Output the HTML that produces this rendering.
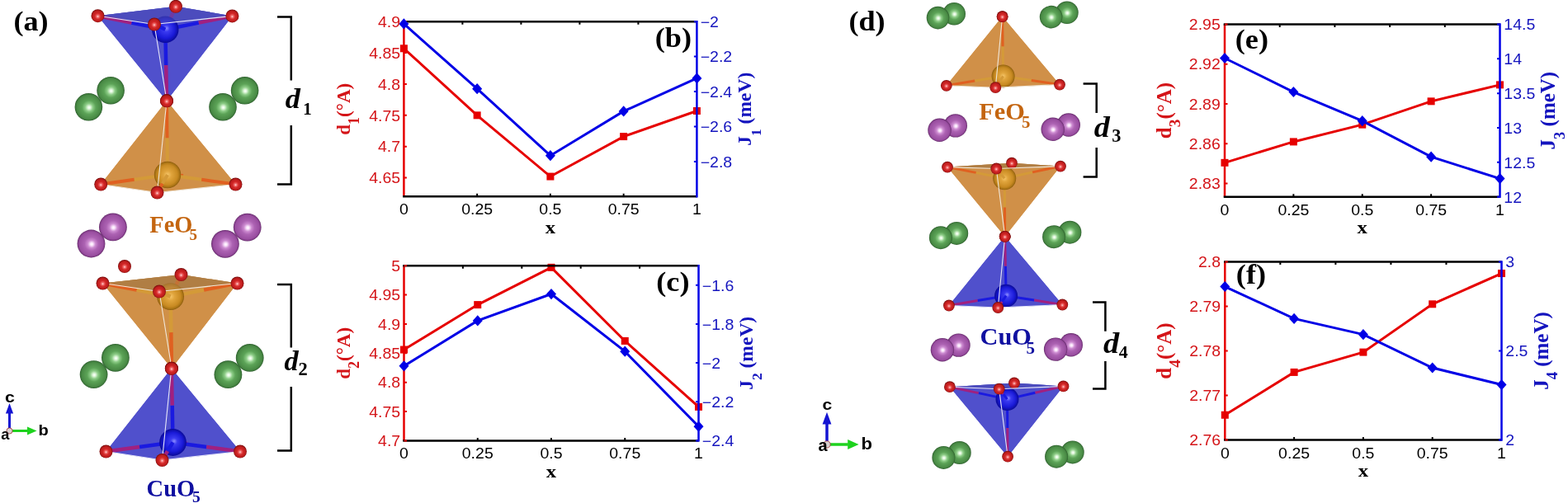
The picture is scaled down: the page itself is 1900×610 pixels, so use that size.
<!DOCTYPE html><html><head><meta charset="utf-8"><title>Figure</title><style>html,body{margin:0;padding:0;background:#fff;}svg{display:block;}</style></head><body>
<svg width="1900" height="610" viewBox="0 0 1900 610">
<defs>
<radialGradient id="gO" cx="0.5" cy="0.52" r="0.5" fx="0.5" fy="0.55">
 <stop offset="0" stop-color="#ffe0e0"/><stop offset="0.18" stop-color="#f07070"/><stop offset="0.45" stop-color="#d42828"/>
 <stop offset="0.82" stop-color="#bb1c1c"/><stop offset="1" stop-color="#7a0c0c"/></radialGradient>
<radialGradient id="gG" cx="0.5" cy="0.5" r="0.5" fx="0.52" fy="0.52">
 <stop offset="0" stop-color="#ffffff"/><stop offset="0.1" stop-color="#e2f8de"/><stop offset="0.28" stop-color="#8ccc86"/>
 <stop offset="0.5" stop-color="#5ca357"/><stop offset="0.86" stop-color="#498a45"/><stop offset="0.95" stop-color="#3a7438"/><stop offset="1" stop-color="#2a5a2a"/></radialGradient>
<radialGradient id="gP" cx="0.5" cy="0.5" r="0.5" fx="0.52" fy="0.52">
 <stop offset="0" stop-color="#ffffff"/><stop offset="0.1" stop-color="#fae4fb"/><stop offset="0.28" stop-color="#cc8ad0"/>
 <stop offset="0.5" stop-color="#ac62b2"/><stop offset="0.86" stop-color="#994ea0"/><stop offset="0.95" stop-color="#7e3a84"/><stop offset="1" stop-color="#5e2664"/></radialGradient>
<radialGradient id="gFe" cx="0.5" cy="0.5" r="0.5" fx="0.5" fy="0.5">
 <stop offset="0" stop-color="#f6c66a"/><stop offset="0.3" stop-color="#e0a43c"/><stop offset="0.75" stop-color="#c88a22"/>
 <stop offset="0.92" stop-color="#a87214"/><stop offset="1" stop-color="#8a5a0c"/></radialGradient>
<radialGradient id="gCu" cx="0.5" cy="0.5" r="0.5" fx="0.55" fy="0.45">
 <stop offset="0" stop-color="#8c8cff"/><stop offset="0.25" stop-color="#3a3af0"/><stop offset="0.7" stop-color="#1a1ad8"/>
 <stop offset="1" stop-color="#0a0a98"/></radialGradient>
</defs>
<rect width="1900" height="610" fill="#fff"/>
<text transform="translate(16.40 37.30) scale(1.050 1)" font-family="'Liberation Serif', 'Times New Roman', Times, serif" font-size="34.5" fill="#000" font-weight="bold">(a)</text>
<text transform="translate(1028.40 37.30) scale(1.050 1)" font-family="'Liberation Serif', 'Times New Roman', Times, serif" font-size="34.5" fill="#000" font-weight="bold">(d)</text>
<polygon points="118.5,19.2 213.0,7.8 281.4,19.4 202.0,122.3" fill="#5050cc" fill-opacity="1.00" stroke="none" stroke-width="0" stroke-linejoin="round"/>
<polygon points="118.5,19.2 213.0,7.8 281.4,19.4 187.0,29.5" fill="#4d4dbd" fill-opacity="1.00" stroke="none" stroke-width="0" stroke-linejoin="round"/>
<polygon points="118.5,19.2 187.0,29.5 202.0,122.3" fill="#5050cc" fill-opacity="1.00" stroke="none" stroke-width="0" stroke-linejoin="round"/>
<polygon points="187.0,29.5 281.4,19.4 202.0,122.3" fill="#5050cc" fill-opacity="1.00" stroke="none" stroke-width="0" stroke-linejoin="round"/>
<line x1="200.3" y1="35.8" x2="206.7" y2="21.8" stroke="#1a1ae0" stroke-width="4.5"/><line x1="206.7" y1="21.8" x2="213.0" y2="7.8" stroke="#a02080" stroke-width="4.5"/>
<line x1="200.3" y1="35.8" x2="159.4" y2="27.5" stroke="#1a1ae0" stroke-width="4.5"/><line x1="159.4" y1="27.5" x2="118.5" y2="19.2" stroke="#a02080" stroke-width="4.5"/>
<line x1="200.3" y1="35.8" x2="240.8" y2="27.6" stroke="#1a1ae0" stroke-width="4.5"/><line x1="240.8" y1="27.6" x2="281.4" y2="19.4" stroke="#a02080" stroke-width="4.5"/>
<line x1="200.3" y1="35.8" x2="201.2" y2="79.0" stroke="#1a1ae0" stroke-width="4.5"/><line x1="201.2" y1="79.0" x2="202.0" y2="122.3" stroke="#a02080" stroke-width="4.5"/>
<circle cx="200.3" cy="35.8" r="16.2" fill="url(#gCu)"/>
<line x1="200.3" y1="35.8" x2="193.7" y2="32.6" stroke="#1a1ae0" stroke-width="4.5"/><line x1="193.7" y1="32.6" x2="187.0" y2="29.5" stroke="#a02080" stroke-width="4.5"/>
<polygon points="118.5,19.2 213.0,7.8 281.4,19.4 187.0,29.5" fill="#4d4dbd" fill-opacity="0.60" stroke="none" stroke-width="0" stroke-linejoin="round"/>
<circle cx="213.0" cy="7.8" r="8.0" fill="url(#gO)"/>
<line x1="118.5" y1="19.2" x2="187.0" y2="29.5" stroke="#e6e6f8" stroke-width="1.1"/>
<line x1="187.0" y1="29.5" x2="281.4" y2="19.4" stroke="#e6e6f8" stroke-width="1.1"/>
<line x1="187.0" y1="29.5" x2="202.0" y2="122.3" stroke="#e6e6f8" stroke-width="1.1"/>
<circle cx="118.5" cy="19.2" r="8.0" fill="url(#gO)"/>
<circle cx="281.4" cy="19.4" r="8.0" fill="url(#gO)"/>
<circle cx="187.0" cy="29.5" r="8.0" fill="url(#gO)"/>
<circle cx="202.0" cy="122.3" r="8.0" fill="url(#gO)"/>
<circle cx="134.1" cy="109.7" r="16.8" fill="url(#gG)"/><circle cx="107.4" cy="129.8" r="16.8" fill="url(#gG)"/>
<circle cx="296.6" cy="109.8" r="16.8" fill="url(#gG)"/><circle cx="270.0" cy="129.8" r="16.8" fill="url(#gG)"/>
<polygon points="122.2,223.5 222.0,213.0 285.5,223.5 202.0,122.3" fill="#d09048" fill-opacity="1.00" stroke="none" stroke-width="0" stroke-linejoin="round"/>
<polygon points="122.2,223.5 222.0,213.0 285.5,223.5 190.5,233.5" fill="#b07e44" fill-opacity="1.00" stroke="none" stroke-width="0" stroke-linejoin="round"/>
<polygon points="122.2,223.5 190.5,233.5 202.0,122.3" fill="#d09048" fill-opacity="1.00" stroke="none" stroke-width="0" stroke-linejoin="round"/>
<polygon points="190.5,233.5 285.5,223.5 202.0,122.3" fill="#d09048" fill-opacity="1.00" stroke="none" stroke-width="0" stroke-linejoin="round"/>
<line x1="203.0" y1="212.0" x2="212.5" y2="212.5" stroke="#d49a38" stroke-width="4"/><line x1="212.5" y1="212.5" x2="222.0" y2="213.0" stroke="#e06020" stroke-width="4"/>
<line x1="203.0" y1="212.0" x2="162.6" y2="217.8" stroke="#d49a38" stroke-width="4"/><line x1="162.6" y1="217.8" x2="122.2" y2="223.5" stroke="#e06020" stroke-width="4"/>
<line x1="203.0" y1="212.0" x2="244.2" y2="217.8" stroke="#d49a38" stroke-width="4"/><line x1="244.2" y1="217.8" x2="285.5" y2="223.5" stroke="#e06020" stroke-width="4"/>
<line x1="203.0" y1="212.0" x2="202.5" y2="167.2" stroke="#d49a38" stroke-width="4"/><line x1="202.5" y1="167.2" x2="202.0" y2="122.3" stroke="#e06020" stroke-width="4"/>
<circle cx="203.0" cy="212.0" r="16.2" fill="url(#gFe)"/>
<line x1="203.0" y1="212.0" x2="196.8" y2="222.8" stroke="#d49a38" stroke-width="4"/><line x1="196.8" y1="222.8" x2="190.5" y2="233.5" stroke="#e06020" stroke-width="4"/>
<line x1="122.2" y1="223.5" x2="190.5" y2="233.5" stroke="#f0e6d8" stroke-width="1.1"/>
<line x1="190.5" y1="233.5" x2="285.5" y2="223.5" stroke="#f0e6d8" stroke-width="1.1"/>
<line x1="190.5" y1="233.5" x2="202.0" y2="122.3" stroke="#f0e6d8" stroke-width="1.1"/>
<circle cx="122.2" cy="223.5" r="8.0" fill="url(#gO)"/>
<circle cx="285.5" cy="223.5" r="8.0" fill="url(#gO)"/>
<circle cx="190.5" cy="233.5" r="8.0" fill="url(#gO)"/>
<circle cx="202.0" cy="122.3" r="8.0" fill="url(#gO)"/>
<circle cx="202.0" cy="122.3" r="8.0" fill="url(#gO)"/>
<circle cx="136.9" cy="275.4" r="16.9" fill="url(#gP)"/><circle cx="110.5" cy="295.5" r="16.9" fill="url(#gP)"/>
<circle cx="299.7" cy="275.6" r="16.9" fill="url(#gP)"/><circle cx="272.9" cy="295.8" r="16.9" fill="url(#gP)"/>
<circle cx="151.0" cy="323.0" r="8.0" fill="url(#gO)"/>
<polygon points="124.5,343.5 219.5,333.0 287.5,343.5 208.0,446.7" fill="#d09048" fill-opacity="1.00" stroke="none" stroke-width="0" stroke-linejoin="round"/>
<polygon points="124.5,343.5 219.5,333.0 287.5,343.5 193.0,353.5" fill="#b07e44" fill-opacity="1.00" stroke="none" stroke-width="0" stroke-linejoin="round"/>
<polygon points="124.5,343.5 193.0,353.5 208.0,446.7" fill="#d09048" fill-opacity="1.00" stroke="none" stroke-width="0" stroke-linejoin="round"/>
<polygon points="193.0,353.5 287.5,343.5 208.0,446.7" fill="#d09048" fill-opacity="1.00" stroke="none" stroke-width="0" stroke-linejoin="round"/>
<line x1="206.6" y1="359.6" x2="213.1" y2="346.3" stroke="#d49a38" stroke-width="4.5"/><line x1="213.1" y1="346.3" x2="219.5" y2="333.0" stroke="#e06020" stroke-width="4.5"/>
<line x1="206.6" y1="359.6" x2="165.6" y2="351.6" stroke="#d49a38" stroke-width="4.5"/><line x1="165.6" y1="351.6" x2="124.5" y2="343.5" stroke="#e06020" stroke-width="4.5"/>
<line x1="206.6" y1="359.6" x2="247.1" y2="351.6" stroke="#d49a38" stroke-width="4.5"/><line x1="247.1" y1="351.6" x2="287.5" y2="343.5" stroke="#e06020" stroke-width="4.5"/>
<line x1="206.6" y1="359.6" x2="207.3" y2="403.1" stroke="#d49a38" stroke-width="4.5"/><line x1="207.3" y1="403.1" x2="208.0" y2="446.7" stroke="#e06020" stroke-width="4.5"/>
<circle cx="206.6" cy="359.6" r="16.4" fill="url(#gFe)"/>
<line x1="206.6" y1="359.6" x2="199.8" y2="356.6" stroke="#d49a38" stroke-width="4.5"/><line x1="199.8" y1="356.6" x2="193.0" y2="353.5" stroke="#e06020" stroke-width="4.5"/>
<polygon points="124.5,343.5 219.5,333.0 287.5,343.5 193.0,353.5" fill="#b07e44" fill-opacity="0.60" stroke="none" stroke-width="0" stroke-linejoin="round"/>
<circle cx="219.5" cy="333.0" r="8.0" fill="url(#gO)"/>
<line x1="124.5" y1="343.5" x2="193.0" y2="353.5" stroke="#f0e6d8" stroke-width="1.1"/>
<line x1="193.0" y1="353.5" x2="287.5" y2="343.5" stroke="#f0e6d8" stroke-width="1.1"/>
<line x1="193.0" y1="353.5" x2="208.0" y2="446.7" stroke="#f0e6d8" stroke-width="1.1"/>
<circle cx="124.5" cy="343.5" r="8.0" fill="url(#gO)"/>
<circle cx="287.5" cy="343.5" r="8.0" fill="url(#gO)"/>
<circle cx="193.0" cy="353.5" r="8.0" fill="url(#gO)"/>
<circle cx="208.0" cy="446.7" r="8.0" fill="url(#gO)"/>
<circle cx="139.9" cy="433.8" r="16.9" fill="url(#gG)"/><circle cx="113.6" cy="454.1" r="16.9" fill="url(#gG)"/>
<circle cx="302.7" cy="433.9" r="16.9" fill="url(#gG)"/><circle cx="276.4" cy="454.2" r="16.9" fill="url(#gG)"/>
<polygon points="128.5,547.5 227.0,538.0 291.0,547.5 207.8,446.8" fill="#5050cc" fill-opacity="1.00" stroke="none" stroke-width="0" stroke-linejoin="round"/>
<polygon points="128.5,547.5 227.0,538.0 291.0,547.5 196.5,558.0" fill="#4d4dbd" fill-opacity="1.00" stroke="none" stroke-width="0" stroke-linejoin="round"/>
<polygon points="128.5,547.5 196.5,558.0 207.8,446.8" fill="#5050cc" fill-opacity="1.00" stroke="none" stroke-width="0" stroke-linejoin="round"/>
<polygon points="196.5,558.0 291.0,547.5 207.8,446.8" fill="#5050cc" fill-opacity="1.00" stroke="none" stroke-width="0" stroke-linejoin="round"/>
<line x1="209.5" y1="536.5" x2="218.2" y2="537.2" stroke="#1a1ae0" stroke-width="4.5"/><line x1="218.2" y1="537.2" x2="227.0" y2="538.0" stroke="#a02080" stroke-width="4.5"/>
<line x1="209.5" y1="536.5" x2="169.0" y2="542.0" stroke="#1a1ae0" stroke-width="4.5"/><line x1="169.0" y1="542.0" x2="128.5" y2="547.5" stroke="#a02080" stroke-width="4.5"/>
<line x1="209.5" y1="536.5" x2="250.2" y2="542.0" stroke="#1a1ae0" stroke-width="4.5"/><line x1="250.2" y1="542.0" x2="291.0" y2="547.5" stroke="#a02080" stroke-width="4.5"/>
<line x1="209.5" y1="536.5" x2="208.7" y2="491.6" stroke="#1a1ae0" stroke-width="4.5"/><line x1="208.7" y1="491.6" x2="207.8" y2="446.8" stroke="#a02080" stroke-width="4.5"/>
<circle cx="209.5" cy="536.5" r="16.4" fill="url(#gCu)"/>
<line x1="209.5" y1="536.5" x2="203.0" y2="547.2" stroke="#1a1ae0" stroke-width="4.5"/><line x1="203.0" y1="547.2" x2="196.5" y2="558.0" stroke="#a02080" stroke-width="4.5"/>
<line x1="128.5" y1="547.5" x2="196.5" y2="558.0" stroke="#e6e6f8" stroke-width="1.1"/>
<line x1="196.5" y1="558.0" x2="291.0" y2="547.5" stroke="#e6e6f8" stroke-width="1.1"/>
<line x1="196.5" y1="558.0" x2="207.8" y2="446.8" stroke="#e6e6f8" stroke-width="1.1"/>
<circle cx="128.5" cy="547.5" r="8.0" fill="url(#gO)"/>
<circle cx="291.0" cy="547.5" r="8.0" fill="url(#gO)"/>
<circle cx="196.5" cy="558.0" r="8.0" fill="url(#gO)"/>
<circle cx="207.8" cy="446.8" r="8.0" fill="url(#gO)"/>
<circle cx="207.9" cy="446.8" r="8.0" fill="url(#gO)"/>
<circle cx="1156.2" cy="16.7" r="13.8" fill="url(#gG)"/><circle cx="1136.5" cy="21.6" r="13.8" fill="url(#gG)"/>
<circle cx="1292.9" cy="15.3" r="13.8" fill="url(#gG)"/><circle cx="1273.6" cy="20.6" r="13.8" fill="url(#gG)"/>
<polygon points="1146.8,103.8 1225.0,98.0 1284.0,102.6 1214.6,20.1" fill="#d09048" fill-opacity="1.00" stroke="none" stroke-width="0" stroke-linejoin="round"/>
<polygon points="1146.8,103.8 1225.0,98.0 1284.0,102.6 1206.3,106.2" fill="#b07e44" fill-opacity="1.00" stroke="none" stroke-width="0" stroke-linejoin="round"/>
<polygon points="1146.8,103.8 1206.3,106.2 1214.6,20.1" fill="#d09048" fill-opacity="1.00" stroke="none" stroke-width="0" stroke-linejoin="round"/>
<polygon points="1206.3,106.2 1284.0,102.6 1214.6,20.1" fill="#d09048" fill-opacity="1.00" stroke="none" stroke-width="0" stroke-linejoin="round"/>
<line x1="1215.6" y1="92.4" x2="1220.3" y2="95.2" stroke="#d49a38" stroke-width="3.0"/><line x1="1220.3" y1="95.2" x2="1225.0" y2="98.0" stroke="#e06020" stroke-width="3.0"/>
<line x1="1215.6" y1="92.4" x2="1181.2" y2="98.1" stroke="#d49a38" stroke-width="3.0"/><line x1="1181.2" y1="98.1" x2="1146.8" y2="103.8" stroke="#e06020" stroke-width="3.0"/>
<line x1="1215.6" y1="92.4" x2="1249.8" y2="97.5" stroke="#d49a38" stroke-width="3.0"/><line x1="1249.8" y1="97.5" x2="1284.0" y2="102.6" stroke="#e06020" stroke-width="3.0"/>
<line x1="1215.6" y1="92.4" x2="1215.1" y2="56.2" stroke="#d49a38" stroke-width="3.0"/><line x1="1215.1" y1="56.2" x2="1214.6" y2="20.1" stroke="#e06020" stroke-width="3.0"/>
<circle cx="1215.6" cy="92.4" r="14.0" fill="url(#gFe)"/>
<line x1="1215.6" y1="92.4" x2="1210.9" y2="99.3" stroke="#d49a38" stroke-width="3.0"/><line x1="1210.9" y1="99.3" x2="1206.3" y2="106.2" stroke="#e06020" stroke-width="3.0"/>
<line x1="1146.8" y1="103.8" x2="1206.3" y2="106.2" stroke="#f0e6d8" stroke-width="1.1"/>
<line x1="1206.3" y1="106.2" x2="1284.0" y2="102.6" stroke="#f0e6d8" stroke-width="1.1"/>
<line x1="1206.3" y1="106.2" x2="1214.6" y2="20.1" stroke="#f0e6d8" stroke-width="1.1"/>
<circle cx="1146.8" cy="103.8" r="6.9" fill="url(#gO)"/>
<circle cx="1284.0" cy="102.6" r="6.9" fill="url(#gO)"/>
<circle cx="1206.3" cy="106.2" r="6.9" fill="url(#gO)"/>
<circle cx="1214.6" cy="20.1" r="6.9" fill="url(#gO)"/>
<circle cx="1214.6" cy="20.1" r="6.9" fill="url(#gO)"/>
<circle cx="1157.8" cy="152.4" r="14.2" fill="url(#gP)"/><circle cx="1138.5" cy="157.8" r="14.2" fill="url(#gP)"/>
<circle cx="1294.8" cy="151.5" r="14.2" fill="url(#gP)"/><circle cx="1275.7" cy="156.8" r="14.2" fill="url(#gP)"/>
<polygon points="1148.0,202.6 1226.0,197.7 1285.0,201.6 1217.7,286.8" fill="#d09048" fill-opacity="1.00" stroke="none" stroke-width="0" stroke-linejoin="round"/>
<polygon points="1148.0,202.6 1226.0,197.7 1285.0,201.6 1207.3,204.5" fill="#b07e44" fill-opacity="1.00" stroke="none" stroke-width="0" stroke-linejoin="round"/>
<polygon points="1148.0,202.6 1207.3,204.5 1217.7,286.8" fill="#d09048" fill-opacity="1.00" stroke="none" stroke-width="0" stroke-linejoin="round"/>
<polygon points="1207.3,204.5 1285.0,201.6 1217.7,286.8" fill="#d09048" fill-opacity="1.00" stroke="none" stroke-width="0" stroke-linejoin="round"/>
<line x1="1217.2" y1="216.3" x2="1221.6" y2="207.0" stroke="#d49a38" stroke-width="3.0"/><line x1="1221.6" y1="207.0" x2="1226.0" y2="197.7" stroke="#e06020" stroke-width="3.0"/>
<line x1="1217.2" y1="216.3" x2="1182.6" y2="209.4" stroke="#d49a38" stroke-width="3.0"/><line x1="1182.6" y1="209.4" x2="1148.0" y2="202.6" stroke="#e06020" stroke-width="3.0"/>
<line x1="1217.2" y1="216.3" x2="1251.1" y2="208.9" stroke="#d49a38" stroke-width="3.0"/><line x1="1251.1" y1="208.9" x2="1285.0" y2="201.6" stroke="#e06020" stroke-width="3.0"/>
<line x1="1217.2" y1="216.3" x2="1217.5" y2="251.6" stroke="#d49a38" stroke-width="3.0"/><line x1="1217.5" y1="251.6" x2="1217.7" y2="286.8" stroke="#e06020" stroke-width="3.0"/>
<circle cx="1217.2" cy="216.3" r="14.0" fill="url(#gFe)"/>
<line x1="1217.2" y1="216.3" x2="1212.2" y2="210.4" stroke="#d49a38" stroke-width="3.0"/><line x1="1212.2" y1="210.4" x2="1207.3" y2="204.5" stroke="#e06020" stroke-width="3.0"/>
<polygon points="1148.0,202.6 1226.0,197.7 1285.0,201.6 1207.3,204.5" fill="#b07e44" fill-opacity="0.60" stroke="none" stroke-width="0" stroke-linejoin="round"/>
<circle cx="1226.0" cy="197.7" r="6.9" fill="url(#gO)"/>
<line x1="1148.0" y1="202.6" x2="1207.3" y2="204.5" stroke="#f0e6d8" stroke-width="1.1"/>
<line x1="1207.3" y1="204.5" x2="1285.0" y2="201.6" stroke="#f0e6d8" stroke-width="1.1"/>
<line x1="1207.3" y1="204.5" x2="1217.7" y2="286.8" stroke="#f0e6d8" stroke-width="1.1"/>
<circle cx="1148.0" cy="202.6" r="6.9" fill="url(#gO)"/>
<circle cx="1285.0" cy="201.6" r="6.9" fill="url(#gO)"/>
<circle cx="1207.3" cy="204.5" r="6.9" fill="url(#gO)"/>
<circle cx="1217.7" cy="286.8" r="6.9" fill="url(#gO)"/>
<circle cx="1159.2" cy="282.9" r="14.0" fill="url(#gG)"/><circle cx="1139.9" cy="288.2" r="14.0" fill="url(#gG)"/>
<circle cx="1296.4" cy="281.7" r="14.0" fill="url(#gG)"/><circle cx="1277.1" cy="287.2" r="14.0" fill="url(#gG)"/>
<polygon points="1149.9,370.5 1230.0,362.0 1287.3,369.5 1217.7,286.8" fill="#5050cc" fill-opacity="1.00" stroke="none" stroke-width="0" stroke-linejoin="round"/>
<polygon points="1149.9,370.5 1230.0,362.0 1287.3,369.5 1209.3,373.0" fill="#4d4dbd" fill-opacity="1.00" stroke="none" stroke-width="0" stroke-linejoin="round"/>
<polygon points="1149.9,370.5 1209.3,373.0 1217.7,286.8" fill="#5050cc" fill-opacity="1.00" stroke="none" stroke-width="0" stroke-linejoin="round"/>
<polygon points="1209.3,373.0 1287.3,369.5 1217.7,286.8" fill="#5050cc" fill-opacity="1.00" stroke="none" stroke-width="0" stroke-linejoin="round"/>
<line x1="1219.1" y1="358.7" x2="1224.5" y2="360.4" stroke="#1a1ae0" stroke-width="3.0"/><line x1="1224.5" y1="360.4" x2="1230.0" y2="362.0" stroke="#a02080" stroke-width="3.0"/>
<line x1="1219.1" y1="358.7" x2="1184.5" y2="364.6" stroke="#1a1ae0" stroke-width="3.0"/><line x1="1184.5" y1="364.6" x2="1149.9" y2="370.5" stroke="#a02080" stroke-width="3.0"/>
<line x1="1219.1" y1="358.7" x2="1253.2" y2="364.1" stroke="#1a1ae0" stroke-width="3.0"/><line x1="1253.2" y1="364.1" x2="1287.3" y2="369.5" stroke="#a02080" stroke-width="3.0"/>
<line x1="1219.1" y1="358.7" x2="1218.4" y2="322.8" stroke="#1a1ae0" stroke-width="3.0"/><line x1="1218.4" y1="322.8" x2="1217.7" y2="286.8" stroke="#a02080" stroke-width="3.0"/>
<circle cx="1219.1" cy="358.7" r="14.0" fill="url(#gCu)"/>
<line x1="1219.1" y1="358.7" x2="1214.2" y2="365.9" stroke="#1a1ae0" stroke-width="3.0"/><line x1="1214.2" y1="365.9" x2="1209.3" y2="373.0" stroke="#a02080" stroke-width="3.0"/>
<line x1="1149.9" y1="370.5" x2="1209.3" y2="373.0" stroke="#e6e6f8" stroke-width="1.1"/>
<line x1="1209.3" y1="373.0" x2="1287.3" y2="369.5" stroke="#e6e6f8" stroke-width="1.1"/>
<line x1="1209.3" y1="373.0" x2="1217.7" y2="286.8" stroke="#e6e6f8" stroke-width="1.1"/>
<circle cx="1149.9" cy="370.5" r="6.9" fill="url(#gO)"/>
<circle cx="1287.3" cy="369.5" r="6.9" fill="url(#gO)"/>
<circle cx="1209.3" cy="373.0" r="6.9" fill="url(#gO)"/>
<circle cx="1217.7" cy="286.8" r="6.9" fill="url(#gO)"/>
<circle cx="1217.7" cy="286.8" r="6.9" fill="url(#gO)"/>
<circle cx="1161.5" cy="418.6" r="14.2" fill="url(#gP)"/><circle cx="1141.9" cy="424.2" r="14.2" fill="url(#gP)"/>
<circle cx="1297.8" cy="418.3" r="14.2" fill="url(#gP)"/><circle cx="1279.1" cy="423.6" r="14.2" fill="url(#gP)"/>
<polygon points="1150.9,469.2 1229.0,464.4 1288.5,468.4 1221.1,553.7" fill="#5050cc" fill-opacity="1.00" stroke="none" stroke-width="0" stroke-linejoin="round"/>
<polygon points="1150.9,469.2 1229.0,464.4 1288.5,468.4 1210.7,471.7" fill="#4d4dbd" fill-opacity="1.00" stroke="none" stroke-width="0" stroke-linejoin="round"/>
<polygon points="1150.9,469.2 1210.7,471.7 1221.1,553.7" fill="#5050cc" fill-opacity="1.00" stroke="none" stroke-width="0" stroke-linejoin="round"/>
<polygon points="1210.7,471.7 1288.5,468.4 1221.1,553.7" fill="#5050cc" fill-opacity="1.00" stroke="none" stroke-width="0" stroke-linejoin="round"/>
<line x1="1220.5" y1="484.1" x2="1224.8" y2="474.2" stroke="#1a1ae0" stroke-width="3.0"/><line x1="1224.8" y1="474.2" x2="1229.0" y2="464.4" stroke="#a02080" stroke-width="3.0"/>
<line x1="1220.5" y1="484.1" x2="1185.7" y2="476.6" stroke="#1a1ae0" stroke-width="3.0"/><line x1="1185.7" y1="476.6" x2="1150.9" y2="469.2" stroke="#a02080" stroke-width="3.0"/>
<line x1="1220.5" y1="484.1" x2="1254.5" y2="476.2" stroke="#1a1ae0" stroke-width="3.0"/><line x1="1254.5" y1="476.2" x2="1288.5" y2="468.4" stroke="#a02080" stroke-width="3.0"/>
<line x1="1220.5" y1="484.1" x2="1220.8" y2="518.9" stroke="#1a1ae0" stroke-width="3.0"/><line x1="1220.8" y1="518.9" x2="1221.1" y2="553.7" stroke="#a02080" stroke-width="3.0"/>
<circle cx="1220.5" cy="484.1" r="14.0" fill="url(#gCu)"/>
<line x1="1220.5" y1="484.1" x2="1215.6" y2="477.9" stroke="#1a1ae0" stroke-width="3.0"/><line x1="1215.6" y1="477.9" x2="1210.7" y2="471.7" stroke="#a02080" stroke-width="3.0"/>
<polygon points="1150.9,469.2 1229.0,464.4 1288.5,468.4 1210.7,471.7" fill="#4d4dbd" fill-opacity="0.60" stroke="none" stroke-width="0" stroke-linejoin="round"/>
<circle cx="1229.0" cy="464.4" r="6.9" fill="url(#gO)"/>
<line x1="1150.9" y1="469.2" x2="1210.7" y2="471.7" stroke="#e6e6f8" stroke-width="1.1"/>
<line x1="1210.7" y1="471.7" x2="1288.5" y2="468.4" stroke="#e6e6f8" stroke-width="1.1"/>
<line x1="1210.7" y1="471.7" x2="1221.1" y2="553.7" stroke="#e6e6f8" stroke-width="1.1"/>
<circle cx="1150.9" cy="469.2" r="6.9" fill="url(#gO)"/>
<circle cx="1288.5" cy="468.4" r="6.9" fill="url(#gO)"/>
<circle cx="1210.7" cy="471.7" r="6.9" fill="url(#gO)"/>
<circle cx="1221.1" cy="553.7" r="6.9" fill="url(#gO)"/>
<circle cx="1162.7" cy="549.0" r="14.0" fill="url(#gG)"/><circle cx="1143.4" cy="554.9" r="14.0" fill="url(#gG)"/>
<circle cx="1299.7" cy="548.4" r="14.0" fill="url(#gG)"/><circle cx="1280.1" cy="553.7" r="14.0" fill="url(#gG)"/>
<text transform="translate(181.30 281.70) scale(0.980 1)" font-family="'Liberation Serif', 'Times New Roman', Times, serif" font-size="29" fill="#c4650f" font-weight="bold">FeO</text>
<text transform="translate(229.40 290.50) scale(1.000 1)" font-family="'Liberation Serif', 'Times New Roman', Times, serif" font-size="19" fill="#c4650f" font-weight="bold">5</text>
<text transform="translate(177.60 602.20) scale(0.990 1)" font-family="'Liberation Serif', 'Times New Roman', Times, serif" font-size="28.8" fill="#1010a0" font-weight="bold">CuO</text>
<text transform="translate(233.10 609.00) scale(1.000 1)" font-family="'Liberation Serif', 'Times New Roman', Times, serif" font-size="19.5" fill="#1010a0" font-weight="bold">5</text>
<text transform="translate(1186.30 145.40) scale(1.030 1)" font-family="'Liberation Serif', 'Times New Roman', Times, serif" font-size="29.5" fill="#c4650f" font-weight="bold">FeO</text>
<text transform="translate(1238.00 155.30) scale(1.000 1)" font-family="'Liberation Serif', 'Times New Roman', Times, serif" font-size="20.8" fill="#c4650f" font-weight="bold">5</text>
<text transform="translate(1187.50 417.70) scale(1.000 1)" font-family="'Liberation Serif', 'Times New Roman', Times, serif" font-size="30.3" fill="#1010a0" font-weight="bold">CuO</text>
<text transform="translate(1243.40 428.80) scale(1.000 1)" font-family="'Liberation Serif', 'Times New Roman', Times, serif" font-size="21" fill="#1010a0" font-weight="bold">5</text>
<path d="M336.0 20.5H352.8V97.5M352.8 152.0V223.6H336.0" fill="none" stroke="#000" stroke-width="2.5"/>
<text transform="translate(345.70 130.50) scale(1.070 1)" font-family="'Liberation Serif', 'Times New Roman', Times, serif" font-size="34" fill="#000" font-weight="bold" font-style="italic">d</text>
<text transform="translate(367.30 138.80) scale(1.000 1)" font-family="'Liberation Serif', 'Times New Roman', Times, serif" font-size="20.9" fill="#000" font-weight="bold">1</text>
<path d="M336.0 345.0H352.8V421.5M352.8 469.0V546.5H336.0" fill="none" stroke="#000" stroke-width="2.5"/>
<text transform="translate(344.40 449.30) scale(1.020 1)" font-family="'Liberation Serif', 'Times New Roman', Times, serif" font-size="33.7" fill="#000" font-weight="bold" font-style="italic">d</text>
<text transform="translate(361.60 454.80) scale(1.000 1)" font-family="'Liberation Serif', 'Times New Roman', Times, serif" font-size="22.5" fill="#000" font-weight="bold">2</text>
<path d="M1312.6 101.5H1328.7V137.0M1328.7 179.0V214.5H1312.6" fill="none" stroke="#000" stroke-width="2.5"/>
<text transform="translate(1325.70 165.70) scale(1.080 1)" font-family="'Liberation Serif', 'Times New Roman', Times, serif" font-size="35.3" fill="#000" font-weight="bold" font-style="italic">d</text>
<text transform="translate(1347.30 172.40) scale(1.000 1)" font-family="'Liberation Serif', 'Times New Roman', Times, serif" font-size="22.3" fill="#000" font-weight="bold">3</text>
<path d="M1324.0 366.5H1339.4V401.8M1339.4 437.9V471.5H1324.0" fill="none" stroke="#000" stroke-width="2.5"/>
<text transform="translate(1337.00 427.70) scale(1.070 1)" font-family="'Liberation Serif', 'Times New Roman', Times, serif" font-size="35.9" fill="#000" font-weight="bold" font-style="italic">d</text>
<text transform="translate(1355.80 433.90) scale(1.000 1)" font-family="'Liberation Serif', 'Times New Roman', Times, serif" font-size="21.8" fill="#000" font-weight="bold">4</text>
<line x1="11.5" y1="522.5" x2="11.5" y2="500.5" stroke="#1414d2" stroke-width="3.0"/>
<path d="M6.9 501.5L11.5 489.0L16.1 501.5Z" fill="#1414d2"/>
<line x1="11.5" y1="522.5" x2="33.5" y2="522.5" stroke="#1ed21e" stroke-width="3.0"/>
<path d="M33.0 517.5L44.5 522.5L33.0 527.5Z" fill="#1ed21e"/>
<circle cx="11.5" cy="522.5" r="3.6" fill="#d8d0d0" stroke="#a03030" stroke-width="0.8"/>
<text transform="translate(6.00 487.80) scale(1.130 1)" font-family="'Liberation Sans', Arial, Helvetica, sans-serif" font-size="18.9" fill="#000" font-weight="bold">c</text>
<text transform="translate(1.30 533.20) scale(1.000 1)" font-family="'Liberation Sans', Arial, Helvetica, sans-serif" font-size="18.2" fill="#000" font-weight="bold">a</text>
<text transform="translate(46.50 528.40) scale(1.060 1)" font-family="'Liberation Sans', Arial, Helvetica, sans-serif" font-size="19" fill="#000" font-weight="bold">b</text>
<line x1="1002.0" y1="539.0" x2="1002.0" y2="513.3" stroke="#1414d2" stroke-width="3.5"/>
<path d="M996.6 514.4L1002.0 499.8L1007.4 514.4Z" fill="#1414d2"/>
<line x1="1002.0" y1="539.0" x2="1027.7" y2="539.0" stroke="#1ed21e" stroke-width="3.5"/>
<path d="M1027.2 533.1L1040.6 539.0L1027.2 544.9Z" fill="#1ed21e"/>
<circle cx="1002.0" cy="539.0" r="4.2" fill="#d8d0d0" stroke="#a03030" stroke-width="0.8"/>
<text transform="translate(996.50 497.40) scale(1.200 1)" font-family="'Liberation Sans', Arial, Helvetica, sans-serif" font-size="17.6" fill="#000" font-weight="bold">c</text>
<text transform="translate(991.40 546.70) scale(1.000 1)" font-family="'Liberation Sans', Arial, Helvetica, sans-serif" font-size="20" fill="#000" font-weight="bold">a</text>
<text transform="translate(1043.60 544.60) scale(1.080 1)" font-family="'Liberation Sans', Arial, Helvetica, sans-serif" font-size="20.4" fill="#000" font-weight="bold">b</text>
<polyline points="489.40,58.77 578.15,139.83 666.90,214.06 755.65,165.58 844.40,134.52" fill="none" stroke="#e60000" stroke-width="3" stroke-linejoin="miter"/>
<rect x="484.90" y="54.27" width="9" height="9" fill="#e60000"/>
<rect x="573.65" y="135.33" width="9" height="9" fill="#e60000"/>
<rect x="662.40" y="209.56" width="9" height="9" fill="#e60000"/>
<rect x="751.15" y="161.08" width="9" height="9" fill="#e60000"/>
<rect x="839.90" y="130.02" width="9" height="9" fill="#e60000"/>
<path d="M489.40 26.20V238.30" stroke="#e60000" stroke-width="2.5" fill="none"/>
<path d="M488.15 26.20H844.40M488.15 238.30H844.40" stroke="#000" stroke-width="2.5" fill="none"/>
<path d="M578.15 238.30V234.80M666.90 238.30V234.80M755.65 238.30V234.80M560.40 26.20V29.70M631.40 26.20V29.70M702.40 26.20V29.70M773.40 26.20V29.70" stroke="#000" stroke-width="2" fill="none"/>
<path d="M489.40 215.57H492.90M489.40 177.70H492.90M489.40 139.83H492.90M489.40 101.95H492.90M489.40 64.08H492.90M489.40 26.20H492.90" stroke="#e60000" stroke-width="2" fill="none"/>
<polyline points="489.40,28.96 578.15,107.65 666.90,188.67 755.65,134.90 844.40,94.92" fill="none" stroke="#0000e6" stroke-width="3" stroke-linejoin="miter"/>
<path d="M489.40 22.36L495.40 28.96L489.40 35.56L483.40 28.96Z" fill="#0000e6"/>
<path d="M578.15 101.05L584.15 107.65L578.15 114.25L572.15 107.65Z" fill="#0000e6"/>
<path d="M666.90 182.07L672.90 188.67L666.90 195.27L660.90 188.67Z" fill="#0000e6"/>
<path d="M755.65 128.30L761.65 134.90L755.65 141.50L749.65 134.90Z" fill="#0000e6"/>
<path d="M844.40 88.32L850.40 94.92L844.40 101.52L838.40 94.92Z" fill="#0000e6"/>
<path d="M844.40 25.00V239.50" stroke="#0000e6" stroke-width="2.5" fill="none"/>
<path d="M844.40 195.88H840.90M844.40 153.46H840.90M844.40 111.04H840.90M844.40 68.62H840.90M844.40 26.20H840.90" stroke="#0000e6" stroke-width="2" fill="none"/>
<text transform="translate(485.10 222.27) scale(1.090 1)" font-family="'Liberation Sans', Arial, Helvetica, sans-serif" font-size="17.9" fill="#d41418" text-anchor="end">4.65</text>
<text transform="translate(485.10 184.40) scale(1.090 1)" font-family="'Liberation Sans', Arial, Helvetica, sans-serif" font-size="17.9" fill="#d41418" text-anchor="end">4.7</text>
<text transform="translate(485.10 146.53) scale(1.090 1)" font-family="'Liberation Sans', Arial, Helvetica, sans-serif" font-size="17.9" fill="#d41418" text-anchor="end">4.75</text>
<text transform="translate(485.10 108.65) scale(1.090 1)" font-family="'Liberation Sans', Arial, Helvetica, sans-serif" font-size="17.9" fill="#d41418" text-anchor="end">4.8</text>
<text transform="translate(485.10 70.78) scale(1.090 1)" font-family="'Liberation Sans', Arial, Helvetica, sans-serif" font-size="17.9" fill="#d41418" text-anchor="end">4.85</text>
<text transform="translate(485.10 32.90) scale(1.090 1)" font-family="'Liberation Sans', Arial, Helvetica, sans-serif" font-size="17.9" fill="#d41418" text-anchor="end">4.9</text>
<text transform="translate(848.70 202.68) scale(1.090 1)" font-family="'Liberation Sans', Arial, Helvetica, sans-serif" font-size="17.9" fill="#1414be">−2.8</text>
<text transform="translate(848.70 160.26) scale(1.090 1)" font-family="'Liberation Sans', Arial, Helvetica, sans-serif" font-size="17.9" fill="#1414be">−2.6</text>
<text transform="translate(848.70 117.84) scale(1.090 1)" font-family="'Liberation Sans', Arial, Helvetica, sans-serif" font-size="17.9" fill="#1414be">−2.4</text>
<text transform="translate(848.70 75.42) scale(1.090 1)" font-family="'Liberation Sans', Arial, Helvetica, sans-serif" font-size="17.9" fill="#1414be">−2.2</text>
<text transform="translate(848.70 33.00) scale(1.090 1)" font-family="'Liberation Sans', Arial, Helvetica, sans-serif" font-size="17.9" fill="#1414be">−2</text>
<text transform="translate(489.40 260.30) scale(1.090 1)" font-family="'Liberation Sans', Arial, Helvetica, sans-serif" font-size="17.9" fill="#000" text-anchor="middle">0</text>
<text transform="translate(578.15 260.30) scale(1.090 1)" font-family="'Liberation Sans', Arial, Helvetica, sans-serif" font-size="17.9" fill="#000" text-anchor="middle">0.25</text>
<text transform="translate(666.90 260.30) scale(1.090 1)" font-family="'Liberation Sans', Arial, Helvetica, sans-serif" font-size="17.9" fill="#000" text-anchor="middle">0.5</text>
<text transform="translate(755.65 260.30) scale(1.090 1)" font-family="'Liberation Sans', Arial, Helvetica, sans-serif" font-size="17.9" fill="#000" text-anchor="middle">0.75</text>
<text transform="translate(844.40 260.30) scale(1.090 1)" font-family="'Liberation Sans', Arial, Helvetica, sans-serif" font-size="17.9" fill="#000" text-anchor="middle">1</text>
<text transform="translate(666.90 282.60) scale(1.120 1)" font-family="'Liberation Serif', 'Times New Roman', Times, serif" font-size="22" fill="#000" font-weight="bold" text-anchor="middle">x</text>
<text transform="translate(838.00 56.50) scale(1.050 1)" font-family="'Liberation Serif', 'Times New Roman', Times, serif" font-size="34.5" fill="#000" font-weight="bold" text-anchor="end">(b)</text>
<text transform="translate(424.30 132.25) rotate(-90) scale(1 1.020)" font-family="'Liberation Serif', 'Times New Roman', Times, serif" font-size="23" fill="#d41418" font-weight="bold" text-anchor="middle">d<tspan font-size="17.9" dy="10.8">1</tspan><tspan dy="-10.8">(°A)</tspan></text>
<text transform="translate(910.00 132.25) rotate(-90) scale(1 1.000)" font-family="'Liberation Serif', 'Times New Roman', Times, serif" font-size="23.5" fill="#1414be" font-weight="bold" text-anchor="middle">J<tspan font-size="17.4" dy="11.8">1</tspan><tspan dy="-11.8"> (meV)</tspan></text>
<polyline points="489.50,424.06 578.75,369.59 668.00,324.32 757.25,413.45 846.50,493.37" fill="none" stroke="#e60000" stroke-width="3" stroke-linejoin="miter"/>
<rect x="485.00" y="419.56" width="9" height="9" fill="#e60000"/>
<rect x="574.25" y="365.09" width="9" height="9" fill="#e60000"/>
<rect x="663.50" y="319.82" width="9" height="9" fill="#e60000"/>
<rect x="752.75" y="408.95" width="9" height="9" fill="#e60000"/>
<rect x="842.00" y="488.87" width="9" height="9" fill="#e60000"/>
<path d="M489.50 322.20V534.40" stroke="#e60000" stroke-width="2.5" fill="none"/>
<path d="M488.25 322.20H846.50M488.25 534.40H846.50" stroke="#000" stroke-width="2.5" fill="none"/>
<path d="M578.75 534.40V530.90M668.00 534.40V530.90M757.25 534.40V530.90M560.90 322.20V325.70M632.30 322.20V325.70M703.70 322.20V325.70M775.10 322.20V325.70" stroke="#000" stroke-width="2" fill="none"/>
<path d="M489.50 534.40H493.00M489.50 499.03H493.00M489.50 463.67H493.00M489.50 428.30H493.00M489.50 392.93H493.00M489.50 357.57H493.00M489.50 322.20H493.00" stroke="#e60000" stroke-width="2" fill="none"/>
<polyline points="489.50,443.86 578.75,388.93 668.00,356.53 757.25,426.18 846.50,517.19" fill="none" stroke="#0000e6" stroke-width="3" stroke-linejoin="miter"/>
<path d="M489.50 437.26L495.50 443.86L489.50 450.46L483.50 443.86Z" fill="#0000e6"/>
<path d="M578.75 382.33L584.75 388.93L578.75 395.53L572.75 388.93Z" fill="#0000e6"/>
<path d="M668.00 349.93L674.00 356.53L668.00 363.13L662.00 356.53Z" fill="#0000e6"/>
<path d="M757.25 419.58L763.25 426.18L757.25 432.78L751.25 426.18Z" fill="#0000e6"/>
<path d="M846.50 510.59L852.50 517.19L846.50 523.79L840.50 517.19Z" fill="#0000e6"/>
<path d="M846.50 321.00V535.60" stroke="#0000e6" stroke-width="2.5" fill="none"/>
<path d="M846.50 534.40H843.00M846.50 487.24H843.00M846.50 440.09H843.00M846.50 392.93H843.00M846.50 345.78H843.00" stroke="#0000e6" stroke-width="2" fill="none"/>
<text transform="translate(485.20 541.10) scale(1.090 1)" font-family="'Liberation Sans', Arial, Helvetica, sans-serif" font-size="17.9" fill="#d41418" text-anchor="end">4.7</text>
<text transform="translate(485.20 505.73) scale(1.090 1)" font-family="'Liberation Sans', Arial, Helvetica, sans-serif" font-size="17.9" fill="#d41418" text-anchor="end">4.75</text>
<text transform="translate(485.20 470.37) scale(1.090 1)" font-family="'Liberation Sans', Arial, Helvetica, sans-serif" font-size="17.9" fill="#d41418" text-anchor="end">4.8</text>
<text transform="translate(485.20 435.00) scale(1.090 1)" font-family="'Liberation Sans', Arial, Helvetica, sans-serif" font-size="17.9" fill="#d41418" text-anchor="end">4.85</text>
<text transform="translate(485.20 399.63) scale(1.090 1)" font-family="'Liberation Sans', Arial, Helvetica, sans-serif" font-size="17.9" fill="#d41418" text-anchor="end">4.9</text>
<text transform="translate(485.20 364.27) scale(1.090 1)" font-family="'Liberation Sans', Arial, Helvetica, sans-serif" font-size="17.9" fill="#d41418" text-anchor="end">4.95</text>
<text transform="translate(485.20 328.90) scale(1.090 1)" font-family="'Liberation Sans', Arial, Helvetica, sans-serif" font-size="17.9" fill="#d41418" text-anchor="end">5</text>
<text transform="translate(850.80 541.20) scale(1.090 1)" font-family="'Liberation Sans', Arial, Helvetica, sans-serif" font-size="17.9" fill="#1414be">−2.4</text>
<text transform="translate(850.80 494.04) scale(1.090 1)" font-family="'Liberation Sans', Arial, Helvetica, sans-serif" font-size="17.9" fill="#1414be">−2.2</text>
<text transform="translate(850.80 446.89) scale(1.090 1)" font-family="'Liberation Sans', Arial, Helvetica, sans-serif" font-size="17.9" fill="#1414be">−2</text>
<text transform="translate(850.80 399.73) scale(1.090 1)" font-family="'Liberation Sans', Arial, Helvetica, sans-serif" font-size="17.9" fill="#1414be">−1.8</text>
<text transform="translate(850.80 352.58) scale(1.090 1)" font-family="'Liberation Sans', Arial, Helvetica, sans-serif" font-size="17.9" fill="#1414be">−1.6</text>
<text transform="translate(489.50 556.40) scale(1.090 1)" font-family="'Liberation Sans', Arial, Helvetica, sans-serif" font-size="17.9" fill="#000" text-anchor="middle">0</text>
<text transform="translate(578.75 556.40) scale(1.090 1)" font-family="'Liberation Sans', Arial, Helvetica, sans-serif" font-size="17.9" fill="#000" text-anchor="middle">0.25</text>
<text transform="translate(668.00 556.40) scale(1.090 1)" font-family="'Liberation Sans', Arial, Helvetica, sans-serif" font-size="17.9" fill="#000" text-anchor="middle">0.5</text>
<text transform="translate(757.25 556.40) scale(1.090 1)" font-family="'Liberation Sans', Arial, Helvetica, sans-serif" font-size="17.9" fill="#000" text-anchor="middle">0.75</text>
<text transform="translate(846.50 556.40) scale(1.090 1)" font-family="'Liberation Sans', Arial, Helvetica, sans-serif" font-size="17.9" fill="#000" text-anchor="middle">1</text>
<text transform="translate(668.00 578.70) scale(1.120 1)" font-family="'Liberation Serif', 'Times New Roman', Times, serif" font-size="22" fill="#000" font-weight="bold" text-anchor="middle">x</text>
<text transform="translate(835.50 352.50) scale(1.050 1)" font-family="'Liberation Serif', 'Times New Roman', Times, serif" font-size="34.5" fill="#000" font-weight="bold" text-anchor="end">(c)</text>
<text transform="translate(424.30 428.30) rotate(-90) scale(1 1.020)" font-family="'Liberation Serif', 'Times New Roman', Times, serif" font-size="23" fill="#d41418" font-weight="bold" text-anchor="middle">d<tspan font-size="17.9" dy="10.8">2</tspan><tspan dy="-10.8">(°A)</tspan></text>
<text transform="translate(911.50 428.30) rotate(-90) scale(1 1.000)" font-family="'Liberation Serif', 'Times New Roman', Times, serif" font-size="23.5" fill="#1414be" font-weight="bold" text-anchor="middle">J<tspan font-size="17.4" dy="11.8">2</tspan><tspan dy="-11.8"> (meV)</tspan></text>
<polyline points="1484.00,197.34 1567.38,171.92 1650.75,151.16 1734.12,122.84 1817.50,102.88" fill="none" stroke="#e60000" stroke-width="3" stroke-linejoin="miter"/>
<rect x="1479.50" y="192.84" width="9" height="9" fill="#e60000"/>
<rect x="1562.88" y="167.42" width="9" height="9" fill="#e60000"/>
<rect x="1646.25" y="146.66" width="9" height="9" fill="#e60000"/>
<rect x="1729.62" y="118.34" width="9" height="9" fill="#e60000"/>
<rect x="1813.00" y="98.38" width="9" height="9" fill="#e60000"/>
<path d="M1484.00 29.50V238.70" stroke="#e60000" stroke-width="2.5" fill="none"/>
<path d="M1482.75 29.50H1817.50M1482.75 238.70H1817.50" stroke="#000" stroke-width="2.5" fill="none"/>
<path d="M1567.38 238.70V235.20M1650.75 238.70V235.20M1734.12 238.70V235.20M1550.70 29.50V33.00M1617.40 29.50V33.00M1684.10 29.50V33.00M1750.80 29.50V33.00" stroke="#000" stroke-width="2" fill="none"/>
<path d="M1484.00 222.61H1487.50M1484.00 174.33H1487.50M1484.00 126.05H1487.50M1484.00 77.78H1487.50M1484.00 29.50H1487.50" stroke="#e60000" stroke-width="2" fill="none"/>
<polyline points="1484.00,70.50 1567.38,111.51 1650.75,146.65 1734.12,190.17 1817.50,216.61" fill="none" stroke="#0000e6" stroke-width="3" stroke-linejoin="miter"/>
<path d="M1484.00 63.90L1490.00 70.50L1484.00 77.10L1478.00 70.50Z" fill="#0000e6"/>
<path d="M1567.38 104.91L1573.38 111.51L1567.38 118.11L1561.38 111.51Z" fill="#0000e6"/>
<path d="M1650.75 140.05L1656.75 146.65L1650.75 153.25L1644.75 146.65Z" fill="#0000e6"/>
<path d="M1734.12 183.57L1740.12 190.17L1734.12 196.77L1728.12 190.17Z" fill="#0000e6"/>
<path d="M1817.50 210.01L1823.50 216.61L1817.50 223.21L1811.50 216.61Z" fill="#0000e6"/>
<path d="M1817.50 28.30V239.90" stroke="#0000e6" stroke-width="2.5" fill="none"/>
<path d="M1817.50 238.70H1814.00M1817.50 196.86H1814.00M1817.50 155.02H1814.00M1817.50 113.18H1814.00M1817.50 71.34H1814.00M1817.50 29.50H1814.00" stroke="#0000e6" stroke-width="2" fill="none"/>
<text transform="translate(1478.80 229.31) scale(1.090 1)" font-family="'Liberation Sans', Arial, Helvetica, sans-serif" font-size="17.9" fill="#d41418" text-anchor="end">2.83</text>
<text transform="translate(1478.80 181.03) scale(1.090 1)" font-family="'Liberation Sans', Arial, Helvetica, sans-serif" font-size="17.9" fill="#d41418" text-anchor="end">2.86</text>
<text transform="translate(1478.80 132.75) scale(1.090 1)" font-family="'Liberation Sans', Arial, Helvetica, sans-serif" font-size="17.9" fill="#d41418" text-anchor="end">2.89</text>
<text transform="translate(1478.80 84.48) scale(1.090 1)" font-family="'Liberation Sans', Arial, Helvetica, sans-serif" font-size="17.9" fill="#d41418" text-anchor="end">2.92</text>
<text transform="translate(1478.80 36.20) scale(1.090 1)" font-family="'Liberation Sans', Arial, Helvetica, sans-serif" font-size="17.9" fill="#d41418" text-anchor="end">2.95</text>
<text transform="translate(1822.30 245.50) scale(1.090 1)" font-family="'Liberation Sans', Arial, Helvetica, sans-serif" font-size="17.9" fill="#1414be">12</text>
<text transform="translate(1822.30 203.66) scale(1.090 1)" font-family="'Liberation Sans', Arial, Helvetica, sans-serif" font-size="17.9" fill="#1414be">12.5</text>
<text transform="translate(1822.30 161.82) scale(1.090 1)" font-family="'Liberation Sans', Arial, Helvetica, sans-serif" font-size="17.9" fill="#1414be">13</text>
<text transform="translate(1822.30 119.98) scale(1.090 1)" font-family="'Liberation Sans', Arial, Helvetica, sans-serif" font-size="17.9" fill="#1414be">13.5</text>
<text transform="translate(1822.30 78.14) scale(1.090 1)" font-family="'Liberation Sans', Arial, Helvetica, sans-serif" font-size="17.9" fill="#1414be">14</text>
<text transform="translate(1822.30 36.30) scale(1.090 1)" font-family="'Liberation Sans', Arial, Helvetica, sans-serif" font-size="17.9" fill="#1414be">14.5</text>
<text transform="translate(1484.00 260.70) scale(1.090 1)" font-family="'Liberation Sans', Arial, Helvetica, sans-serif" font-size="17.9" fill="#000" text-anchor="middle">0</text>
<text transform="translate(1567.38 260.70) scale(1.090 1)" font-family="'Liberation Sans', Arial, Helvetica, sans-serif" font-size="17.9" fill="#000" text-anchor="middle">0.25</text>
<text transform="translate(1650.75 260.70) scale(1.090 1)" font-family="'Liberation Sans', Arial, Helvetica, sans-serif" font-size="17.9" fill="#000" text-anchor="middle">0.5</text>
<text transform="translate(1734.12 260.70) scale(1.090 1)" font-family="'Liberation Sans', Arial, Helvetica, sans-serif" font-size="17.9" fill="#000" text-anchor="middle">0.75</text>
<text transform="translate(1817.50 260.70) scale(1.090 1)" font-family="'Liberation Sans', Arial, Helvetica, sans-serif" font-size="17.9" fill="#000" text-anchor="middle">1</text>
<text transform="translate(1650.75 283.00) scale(1.120 1)" font-family="'Liberation Serif', 'Times New Roman', Times, serif" font-size="22" fill="#000" font-weight="bold" text-anchor="middle">x</text>
<text transform="translate(1537.00 58.50) scale(1.050 1)" font-family="'Liberation Serif', 'Times New Roman', Times, serif" font-size="34.5" fill="#000" font-weight="bold" text-anchor="end">(e)</text>
<text transform="translate(1418.50 134.10) rotate(-90) scale(1 1.020)" font-family="'Liberation Serif', 'Times New Roman', Times, serif" font-size="25" fill="#d41418" font-weight="bold" text-anchor="middle">d<tspan font-size="19.5" dy="10.8">3</tspan><tspan dy="-10.8">(°A)</tspan></text>
<text transform="translate(1884.00 134.10) rotate(-90) scale(1 0.970)" font-family="'Liberation Serif', 'Times New Roman', Times, serif" font-size="25" fill="#1414be" font-weight="bold" text-anchor="middle">J<tspan font-size="18.5" dy="12.2">3</tspan><tspan dy="-12.2"> (meV)</tspan></text>
<polyline points="1484.30,503.26 1568.10,451.42 1651.90,427.12 1735.70,368.80 1819.50,331.54" fill="none" stroke="#e60000" stroke-width="3" stroke-linejoin="miter"/>
<rect x="1479.80" y="498.76" width="9" height="9" fill="#e60000"/>
<rect x="1563.60" y="446.92" width="9" height="9" fill="#e60000"/>
<rect x="1647.40" y="422.62" width="9" height="9" fill="#e60000"/>
<rect x="1731.20" y="364.30" width="9" height="9" fill="#e60000"/>
<rect x="1815.00" y="327.04" width="9" height="9" fill="#e60000"/>
<path d="M1484.30 317.50V533.50" stroke="#e60000" stroke-width="2.5" fill="none"/>
<path d="M1483.05 317.50H1819.50M1483.05 533.50H1819.50" stroke="#000" stroke-width="2.5" fill="none"/>
<path d="M1568.10 533.50V530.00M1651.90 533.50V530.00M1735.70 533.50V530.00M1551.34 317.50V321.00M1618.38 317.50V321.00M1685.42 317.50V321.00M1752.46 317.50V321.00" stroke="#000" stroke-width="2" fill="none"/>
<path d="M1484.30 533.50H1487.80M1484.30 479.50H1487.80M1484.30 425.50H1487.80M1484.30 371.50H1487.80M1484.30 317.50H1487.80" stroke="#e60000" stroke-width="2" fill="none"/>
<polyline points="1484.30,347.52 1568.10,386.40 1651.90,405.63 1735.70,446.02 1819.50,466.54" fill="none" stroke="#0000e6" stroke-width="3" stroke-linejoin="miter"/>
<path d="M1484.30 340.92L1490.30 347.52L1484.30 354.12L1478.30 347.52Z" fill="#0000e6"/>
<path d="M1568.10 379.80L1574.10 386.40L1568.10 393.00L1562.10 386.40Z" fill="#0000e6"/>
<path d="M1651.90 399.03L1657.90 405.63L1651.90 412.23L1645.90 405.63Z" fill="#0000e6"/>
<path d="M1735.70 439.42L1741.70 446.02L1735.70 452.62L1729.70 446.02Z" fill="#0000e6"/>
<path d="M1819.50 459.94L1825.50 466.54L1819.50 473.14L1813.50 466.54Z" fill="#0000e6"/>
<path d="M1819.50 316.30V534.70" stroke="#0000e6" stroke-width="2.5" fill="none"/>
<path d="M1819.50 533.50H1816.00M1819.50 425.50H1816.00M1819.50 317.50H1816.00" stroke="#0000e6" stroke-width="2" fill="none"/>
<text transform="translate(1479.10 540.20) scale(1.090 1)" font-family="'Liberation Sans', Arial, Helvetica, sans-serif" font-size="17.9" fill="#d41418" text-anchor="end">2.76</text>
<text transform="translate(1479.10 486.20) scale(1.090 1)" font-family="'Liberation Sans', Arial, Helvetica, sans-serif" font-size="17.9" fill="#d41418" text-anchor="end">2.77</text>
<text transform="translate(1479.10 432.20) scale(1.090 1)" font-family="'Liberation Sans', Arial, Helvetica, sans-serif" font-size="17.9" fill="#d41418" text-anchor="end">2.78</text>
<text transform="translate(1479.10 378.20) scale(1.090 1)" font-family="'Liberation Sans', Arial, Helvetica, sans-serif" font-size="17.9" fill="#d41418" text-anchor="end">2.79</text>
<text transform="translate(1479.10 324.20) scale(1.090 1)" font-family="'Liberation Sans', Arial, Helvetica, sans-serif" font-size="17.9" fill="#d41418" text-anchor="end">2.8</text>
<text transform="translate(1824.30 540.30) scale(1.090 1)" font-family="'Liberation Sans', Arial, Helvetica, sans-serif" font-size="17.9" fill="#1414be">2</text>
<text transform="translate(1824.30 432.30) scale(1.090 1)" font-family="'Liberation Sans', Arial, Helvetica, sans-serif" font-size="17.9" fill="#1414be">2.5</text>
<text transform="translate(1824.30 324.30) scale(1.090 1)" font-family="'Liberation Sans', Arial, Helvetica, sans-serif" font-size="17.9" fill="#1414be">3</text>
<text transform="translate(1484.30 555.50) scale(1.090 1)" font-family="'Liberation Sans', Arial, Helvetica, sans-serif" font-size="17.9" fill="#000" text-anchor="middle">0</text>
<text transform="translate(1568.10 555.50) scale(1.090 1)" font-family="'Liberation Sans', Arial, Helvetica, sans-serif" font-size="17.9" fill="#000" text-anchor="middle">0.25</text>
<text transform="translate(1651.90 555.50) scale(1.090 1)" font-family="'Liberation Sans', Arial, Helvetica, sans-serif" font-size="17.9" fill="#000" text-anchor="middle">0.5</text>
<text transform="translate(1735.70 555.50) scale(1.090 1)" font-family="'Liberation Sans', Arial, Helvetica, sans-serif" font-size="17.9" fill="#000" text-anchor="middle">0.75</text>
<text transform="translate(1819.50 555.50) scale(1.090 1)" font-family="'Liberation Sans', Arial, Helvetica, sans-serif" font-size="17.9" fill="#000" text-anchor="middle">1</text>
<text transform="translate(1651.90 577.80) scale(1.120 1)" font-family="'Liberation Serif', 'Times New Roman', Times, serif" font-size="22" fill="#000" font-weight="bold" text-anchor="middle">x</text>
<text transform="translate(1534.00 344.00) scale(1.050 1)" font-family="'Liberation Serif', 'Times New Roman', Times, serif" font-size="34.5" fill="#000" font-weight="bold" text-anchor="end">(f)</text>
<text transform="translate(1418.50 425.50) rotate(-90) scale(1 1.020)" font-family="'Liberation Serif', 'Times New Roman', Times, serif" font-size="25" fill="#d41418" font-weight="bold" text-anchor="middle">d<tspan font-size="19.5" dy="10.8">4</tspan><tspan dy="-10.8">(°A)</tspan></text>
<text transform="translate(1875.50 425.50) rotate(-90) scale(1 0.970)" font-family="'Liberation Serif', 'Times New Roman', Times, serif" font-size="25" fill="#1414be" font-weight="bold" text-anchor="middle">J<tspan font-size="18.5" dy="12.2">4</tspan><tspan dy="-12.2"> (meV)</tspan></text>
</svg></body></html>
